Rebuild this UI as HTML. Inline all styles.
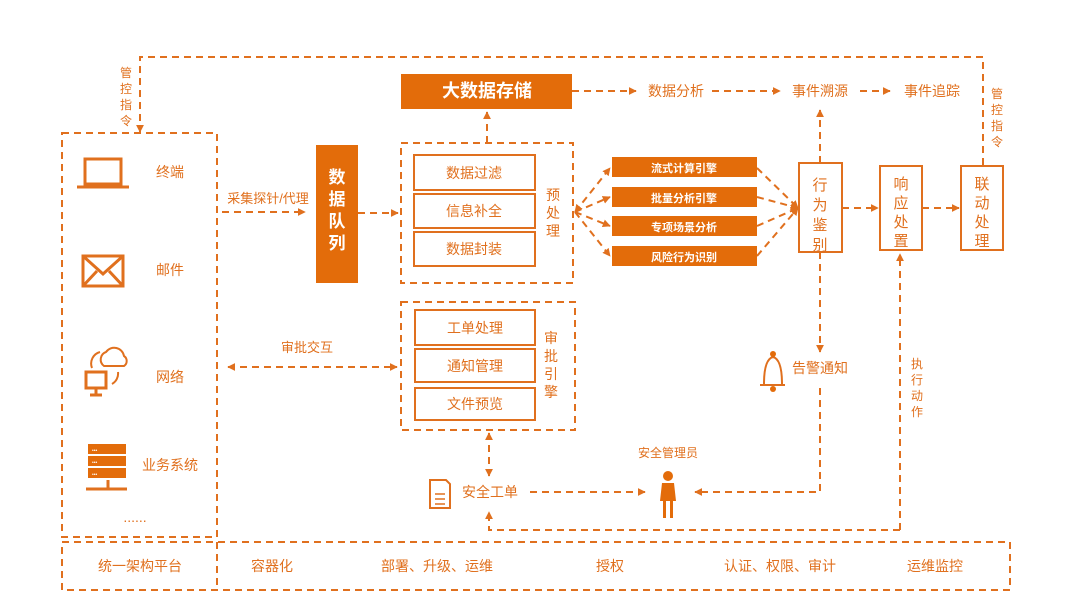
<!DOCTYPE html>
<html><head><meta charset="utf-8"><style>
body{margin:0;background:#fff;}
svg{display:block;font-family:"Liberation Sans","Noto Sans CJK SC",sans-serif;}
</style></head><body>
<svg width="1080" height="608" viewBox="0 0 1080 608" xmlns="http://www.w3.org/2000/svg">
<defs>
<marker id="a" viewBox="0 0 10 10" refX="9" refY="5" markerWidth="4" markerHeight="4" orient="auto-start-reverse"><path d="M0,0L10,5L0,10z" fill="#E0701E"/></marker>
</defs>
<g stroke="#E0701E" stroke-width="2" fill="none" stroke-dasharray="7,5">
<!-- top loop -->
<path d="M983,165V57H140V132" marker-end="url(#a)"/>
<!-- left box -->
<rect x="62" y="133" width="155" height="404"/>
<!-- bottom bar -->
<rect x="62" y="542" width="948" height="48"/>
<line x1="217" y1="542" x2="217" y2="590"/>
<!-- preprocess box -->
<rect x="401" y="143" width="172" height="140"/>
<rect x="401" y="302" width="174" height="128"/>
<!-- arrows -->
<line x1="572" y1="91" x2="636" y2="91" marker-end="url(#a)"/>
<line x1="712" y1="91" x2="780" y2="91" marker-end="url(#a)"/>
<line x1="860" y1="91" x2="890" y2="91" marker-end="url(#a)"/>
<line x1="487" y1="143" x2="487" y2="112" marker-end="url(#a)"/>
<line x1="222" y1="212" x2="305" y2="212" marker-end="url(#a)"/>
<line x1="358" y1="213" x2="398" y2="213" marker-end="url(#a)"/>
<line x1="842" y1="208" x2="878" y2="208" marker-end="url(#a)"/>
<line x1="922" y1="208" x2="959" y2="208" marker-end="url(#a)"/>
<line x1="820" y1="163" x2="820" y2="110" marker-end="url(#a)"/>
<line x1="820" y1="252" x2="820" y2="352" marker-end="url(#a)"/>
<path d="M820,388V492H695" marker-end="url(#a)"/>
<line x1="530" y1="492" x2="645" y2="492" marker-end="url(#a)"/>
<line x1="228" y1="367" x2="397" y2="367" marker-start="url(#a)" marker-end="url(#a)"/>
<line x1="489" y1="433" x2="489" y2="476" marker-start="url(#a)" marker-end="url(#a)"/>
<path d="M900,530H489V512" marker-end="url(#a)"/>
<line x1="900" y1="530" x2="900" y2="254" marker-end="url(#a)"/>
<!-- fan -->
<line x1="575" y1="212" x2="610" y2="168" marker-start="url(#a)" marker-end="url(#a)"/>
<line x1="575" y1="212" x2="610" y2="197" marker-end="url(#a)"/>
<line x1="575" y1="212" x2="610" y2="226" marker-end="url(#a)"/>
<line x1="575" y1="212" x2="610" y2="256" marker-end="url(#a)"/>
<line x1="757" y1="168" x2="798" y2="208" marker-end="url(#a)"/>
<line x1="757" y1="197" x2="798" y2="208" marker-end="url(#a)"/>
<line x1="757" y1="226" x2="798" y2="208" marker-end="url(#a)"/>
<line x1="757" y1="256" x2="798" y2="208" marker-end="url(#a)"/>
</g>
<g fill="#E36C0A">
<rect x="401" y="74" width="171" height="35"/>
<rect x="316" y="145" width="42" height="138"/>
<rect x="612" y="157" width="145" height="20"/>
<rect x="612" y="187" width="145" height="20"/>
<rect x="612" y="216" width="145" height="20"/>
<rect x="612" y="246" width="145" height="20"/>
</g>
<g stroke="#E0701E" stroke-width="2" fill="#fff">
<rect x="414" y="155" width="121" height="35"/>
<rect x="414" y="194" width="121" height="34"/>
<rect x="414" y="232" width="121" height="34"/>
<rect x="415" y="310" width="120" height="35"/>
<rect x="415" y="349" width="120" height="33"/>
<rect x="415" y="388" width="120" height="32"/>
<rect x="799" y="163" width="43" height="89"/>
<rect x="880" y="166" width="42" height="84"/>
<rect x="961" y="166" width="42" height="84"/>
</g>
<!-- icons -->
<g stroke="#E0701E" stroke-width="3" fill="none">
<rect x="85" y="159" width="36" height="25"/>
<line x1="77" y1="187" x2="129" y2="187"/>
<rect x="83" y="256" width="40" height="30"/>
<path d="M83,256L103,274L123,256M83,286L97,271M123,286L109,271"/>
<rect x="86" y="372" width="20" height="16"/>
<line x1="96" y1="388" x2="96" y2="395"/><line x1="90" y1="395" x2="102" y2="395"/>
<path d="M104,366a8,8 0 0 1 2,-14a10,10 0 0 1 18,4a6,6 0 0 1 0,10z" stroke-width="2"/>
<path d="M92,368a12,12 0 0 1 8,-16M118,372a12,12 0 0 1 -6,12" stroke-width="2"/>
<path d="M760,385h25M764,384c0,-10 1,-25 9,-27c8,2 9,17 9,27" stroke-width="2"/>
<path d="M430,480h16l4,4v24h-20z" stroke-width="2"/>
<path d="M435,494h10M435,499h10M435,504h10" stroke-width="1.5"/>
<line x1="108" y1="480" x2="108" y2="489"/><line x1="86" y1="489" x2="127" y2="489"/>
</g>
<g fill="#E36C0A">
<rect x="88" y="444" width="38" height="10"/><rect x="88" y="456" width="38" height="10"/><rect x="88" y="468" width="38" height="10"/>
<circle cx="773" cy="354" r="3"/><circle cx="773" cy="389" r="3"/>
<circle cx="668" cy="476" r="5"/>
<path d="M662,483h12l2,18h-3v17h-3v-17h-4v17h-3v-17h-3z"/>
</g>
<g fill="#fff" font-size="5"><text x="92" y="452">•••</text><text x="92" y="464">•••</text><text x="92" y="476">•••</text></g>
<!-- text -->
<g fill="#E0701E" font-size="14" text-anchor="middle">
<text x="676" y="96">数据分析</text>
<text x="820" y="96">事件溯源</text>
<text x="932" y="96">事件追踪</text>
<text x="170" y="177">终端</text>
<text x="170" y="275">邮件</text>
<text x="170" y="382">网络</text>
<text x="170" y="470">业务系统</text>
<text x="135" y="522">......</text>
<text x="268" y="203" font-size="13">采集探针/代理</text>
<text x="474" y="178">数据过滤</text>
<text x="474" y="216">信息补全</text>
<text x="474" y="254">数据封装</text>
<text x="475" y="333">工单处理</text>
<text x="475" y="371">通知管理</text>
<text x="475" y="409">文件预览</text>
<text x="307" y="352" font-size="13">审批交互</text>
<text x="820" y="373">告警通知</text>
<text x="490" y="497">安全工单</text>
<text x="668" y="457" font-size="12">安全管理员</text>
<text x="140" y="571" font-size="14">统一架构平台</text>
<text x="272" y="571">容器化</text>
<text x="437" y="571">部署、升级、运维</text>
<text x="610" y="571">授权</text>
<text x="780" y="571">认证、权限、审计</text>
<text x="935" y="571">运维监控</text>
</g>
<g fill="#E0701E" font-size="14" text-anchor="middle">
<text x="553" y="200">预</text><text x="553" y="218">处</text><text x="553" y="236">理</text>
<text x="551" y="343">审</text><text x="551" y="361">批</text><text x="551" y="379">引</text><text x="551" y="397">擎</text>
<text x="820" y="190" font-size="15">行</text><text x="820" y="210" font-size="15">为</text><text x="820" y="230" font-size="15">鉴</text><text x="820" y="250" font-size="15">别</text>
<text x="901" y="189" font-size="15">响</text><text x="901" y="208" font-size="15">应</text><text x="901" y="227" font-size="15">处</text><text x="901" y="246" font-size="15">置</text>
<text x="982" y="189" font-size="15">联</text><text x="982" y="208" font-size="15">动</text><text x="982" y="227" font-size="15">处</text><text x="982" y="246" font-size="15">理</text>
<text x="126" y="77" font-size="12">管</text><text x="126" y="93" font-size="12">控</text><text x="126" y="109" font-size="12">指</text><text x="126" y="125" font-size="12">令</text>
<text x="997" y="98" font-size="12">管</text><text x="997" y="114" font-size="12">控</text><text x="997" y="130" font-size="12">指</text><text x="997" y="146" font-size="12">令</text>
<text x="917" y="368" font-size="12">执</text><text x="917" y="384" font-size="12">行</text><text x="917" y="400" font-size="12">动</text><text x="917" y="416" font-size="12">作</text>
</g>
<g fill="#fff" text-anchor="middle" font-weight="bold">
<text x="487" y="97" font-size="18">大数据存储</text>
<text x="337" y="183" font-size="17">数</text><text x="337" y="205" font-size="17">据</text><text x="337" y="227" font-size="17">队</text><text x="337" y="249" font-size="17">列</text>
<text x="684" y="172" font-size="11">流式计算引擎</text>
<text x="684" y="202" font-size="11">批量分析引擎</text>
<text x="684" y="231" font-size="11">专项场景分析</text>
<text x="684" y="261" font-size="11">风险行为识别</text>
</g>
</svg>
</body></html>
